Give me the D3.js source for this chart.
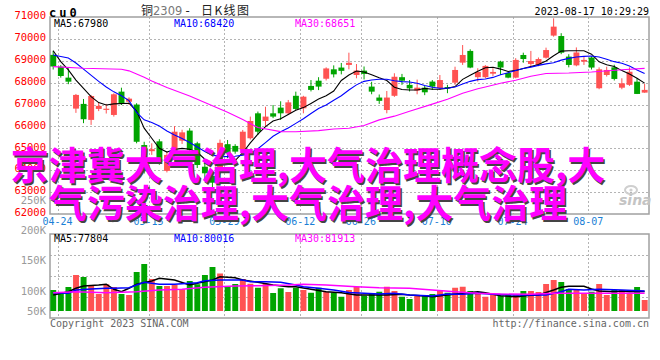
<!DOCTYPE html>
<html><head><meta charset="utf-8">
<script src="https://cdn.jsdelivr.net/npm/d3@7/dist/d3.min.js"></script>
<style>html,body{margin:0;padding:0;background:#fff;}svg{display:block;}</style>
</head><body><svg id="c" width="660" height="360"></svg>
<script>
const dates = ["04-24","04-25","04-26","04-27","04-28","05-04","05-05","05-08","05-09","05-10","05-11","05-12","05-15","05-16","05-17","05-18","05-19","05-22","05-23","05-24","05-25","05-26","05-29","05-30","05-31","06-01","06-02","06-05","06-06","06-07","06-08","06-09","06-12","06-13","06-14","06-15","06-16","06-19","06-20","06-21","06-26","06-27","06-28","06-29","06-30","07-03","07-04","07-05","07-06","07-07","07-10","07-11","07-12","07-13","07-14","07-17","07-18","07-19","07-20","07-21","07-24","07-25","07-26","07-27","07-28","07-31","08-01","08-02","08-03","08-04","08-07","08-08","08-09","08-10","08-11","08-14","08-15","08-16","08-17"];
const open = [69270,68730,68230,66815,67030,66300,66800,66770,66525,67590,67130,67000,65150,64870,65320,63970,64960,65350,65810,65230,64160,63740,63900,65190,65110,64930,65460,66600,66250,66600,66860,66600,67400,66830,67850,68090,68180,68610,68690,68810,68350,68550,67820,67320,66750,67400,68250,67900,67640,67770,68050,67750,67800,68000,68915,69450,68250,68250,68410,68960,68440,68230,69265,68855,68810,69140,70150,70130,69190,68790,68960,69150,67745,68350,68700,67770,67900,68045,67545];
const high = [69460,68800,68660,67485,67255,67440,67100,67030,67515,67770,67330,67060,65300,65230,65420,64850,66020,65850,65920,65300,64350,63900,65400,65380,65190,65840,66450,66680,66900,66980,67150,67210,67590,67400,68120,68250,68700,68790,68900,69370,68850,68740,68040,67460,67620,68430,68400,68120,68140,67850,68120,68350,67900,68730,69720,69525,68660,68800,68660,69000,68500,69120,69370,69450,69150,69600,70940,70260,69300,69610,69190,69200,68700,68730,68820,68200,68700,68200,67950];
const low = [68600,68230,67930,66620,66150,66070,66700,66590,66450,66980,66990,65230,63850,64700,64250,63900,64900,65200,64700,64100,63600,63100,63800,64550,64750,64850,65400,65610,66000,66380,66300,66550,66750,66600,67600,67660,68100,68240,68380,68610,68200,68150,67470,67030,66600,67350,67900,67600,67470,67430,67670,67670,67520,67900,68810,68660,68050,68200,68300,68350,68200,68200,68910,68730,68750,69100,70100,69300,68700,68750,68810,68600,67700,68280,68100,67700,67850,67480,67540];
const close = [68740,68305,68045,67440,66330,67390,66940,66810,67470,67060,67270,65300,63950,64960,64380,64700,65760,65730,64930,64240,63860,63430,65250,64780,64850,65760,66250,65760,66450,66450,66600,67100,66800,67360,67670,67820,68650,68380,68540,68910,68550,68400,67590,67170,67320,68270,68090,67740,67770,67560,67820,68120,67740,68580,69265,68690,68490,68765,68490,68690,68230,69040,69080,68990,69080,69490,70560,69370,68810,69380,69040,68690,68610,68580,68170,67970,68500,67485,67670];
const volume = [84000,73000,96000,144000,136000,100000,68000,107000,96000,68000,64000,156000,188000,128000,100000,100000,104000,87000,120000,107000,144000,176000,150000,100000,108000,128000,109000,93000,109000,72000,91000,76000,93000,84000,73000,93000,77000,73000,57000,84000,97000,61000,72000,77000,97000,80000,57000,48000,64000,64000,68000,80000,73000,93000,97000,80000,71000,57000,64000,60000,64000,64000,80000,80000,76000,108000,124000,116000,88000,84000,71000,77000,108000,64000,84000,84000,71000,96000,44000];

// moving-average lines: [day index, value]
const ma5Price = [[0,69460],[1,68960],[2,68580],[3,68120],[4,67740],[5,67360],[6,67090],[7,66980],[8,67030],[10,67060],[11,66700],[12,65920],[13,65460],[14,65000],[15,64830],[16,64950],[17,65000],[18,64960],[19,64820],[20,64500],[21,64330],[22,64240],[23,64320],[24,64440],[25,64800],[26,65250],[27,65650],[28,65990],[29,66250],[30,66350],[31,66550],[32,66740],[33,66860],[34,67050],[35,67250],[36,67400],[37,67620],[38,68100],[39,68350],[40,68530],[41,68490],[42,68360],[43,68220],[44,68100],[45,67790],[46,67690],[47,67667],[48,67667],[49,67740],[50,67700],[51,67700],[52,67744],[53,67820],[54,68150],[55,68340],[56,68520],[57,68680],[58,68703],[59,68620],[60,68510],[61,68560],[62,68650],[63,68740],[64,68830],[65,68990],[66,69230],[67,69440],[68,69461],[69,69461],[70,69460],[71,69300],[72,68950],[73,68820],[74,68740],[75,68550],[76,68400],[77,68200],[78,67980]];
const ma10Price = [[0,69265],[2,69130],[3,68900],[4,68620],[6,68060],[7,67800],[8,67580],[9,67400],[10,67180],[11,66640],[12,66300],[13,66180],[14,66020],[15,65790],[16,65610],[17,65450],[18,65270],[19,65060],[20,64860],[21,64690],[22,64630],[23,64621],[24,64640],[25,64690],[26,64790],[27,64980],[28,65260],[29,65550],[30,65760],[31,65930],[32,66140],[33,66350],[34,66590],[35,66820],[36,66982],[37,67200],[38,67400],[39,67667],[40,67900],[41,68060],[42,68120],[43,68155],[44,68155],[45,68090],[46,68046],[47,68030],[48,67970],[49,67870],[50,67790],[51,67744],[52,67744],[53,67800],[54,67940],[55,68060],[56,68140],[57,68170],[58,68240],[59,68360],[60,68450],[61,68560],[62,68650],[63,68710],[64,68790],[65,68860],[66,68910],[67,69030],[68,69110],[69,69170],[70,69200],[71,69219],[72,69170],[73,69070],[74,68960],[75,68886],[76,68760],[77,68580],[78,68420]];
const ma30Price = [[0,68731],[4,68658],[9,68612],[10,68540],[11,68400],[12,68250],[13,68080],[14,67930],[15,67780],[18,67390],[20,67090],[23,66650],[25,66320],[27,65950],[30,65763],[32,65760],[35,65808],[37,65886],[39,65918],[41,66040],[43,66300],[45,66470],[47,66690],[50,67020],[52,67242],[54,67520],[56,67720],[57,67800],[59,67973],[61,68110],[62,68200],[63,68290],[65,68420],[68,68440],[71,68490],[75,68590],[78,68651]];
const ma5Vol = [[0,64000],[2,77000],[3,91000],[4,100000],[6,104000],[7,107000],[8,87000],[9,77000],[10,91000],[11,107000],[13,120000],[14,131000],[16,124000],[18,104000],[19,111000],[21,124000],[22,137000],[24,133000],[25,124000],[27,115000],[29,104000],[31,97000],[32,97000],[34,87000],[36,77000],[38,73000],[40,64000],[42,64000],[44,64000],[46,67000],[47,64000],[49,60000],[50,57000],[52,64000],[54,71000],[56,77000],[57,73000],[59,61000],[61,57000],[63,63000],[64,64000],[66,84000],[67,95000],[68,99000],[70,99000],[71,88000],[72,80000],[74,77000],[75,80000],[76,77000],[78,77804]];
const ma10Vol = [[0,73000],[2,71000],[3,84000],[5,88000],[7,91000],[8,91000],[10,93000],[11,104000],[12,115000],[14,107000],[16,107000],[18,111000],[19,113000],[20,121000],[22,124000],[25,124000],[26,117000],[28,117000],[30,115000],[32,104000],[33,97000],[35,91000],[37,84000],[39,74000],[41,71000],[43,68000],[45,71000],[47,64000],[50,60000],[52,68000],[54,67000],[56,71000],[58,67000],[61,64000],[63,64000],[65,64000],[67,77000],[68,87000],[70,84000],[72,87000],[75,84000],[78,80016]];
const ma30Vol = [[0,73000],[3,77000],[7,73000],[11,77000],[14,84000],[17,87000],[20,95000],[24,100000],[27,101000],[31,104000],[33,107000],[36,104000],[40,97000],[43,93000],[47,91000],[50,84000],[53,77000],[56,71000],[59,68000],[63,67000],[66,71000],[70,71000],[74,71000],[78,71000]];

const priceTicks = [71000,70000,69000,68000,67000,66000,65000,64000,63000,62000];
const volTicks = [250000,200000,150000,100000,50000];
const volTickLabels = ["250K","200K","150K","100K","50K"];
const dateTicks = ["04-24","05-15","05-29","06-12","06-26","07-10","07-24","08-07"];
const priceMaLabels = ["MA5:67980","MA10:68420","MA30:68651"];
const volMaLabels = ["MA5:77804","MA10:80016","MA30:81913"];
const overlayLines = ["京津冀大气治理,大气治理概念股,大","气污染治理,大气治理,大气治理"];

const svg = d3.select('#c');
const L = 50, R = 649, T = 17, B = 214, VT = 234, VB = 318, VBASE = 311;
const UP = '#ff5252', DOWN = '#00a400';
const maColors = ['#000000','#0000ff','#ff00ff'];
const mono = "'DejaVu Sans Mono', monospace";

svg.append('rect').attr('width',660).attr('height',360).attr('fill','#fff');

const x = d3.scaleBand().domain(dates).range([L, R]).padding(0);
const step = x.step();
const xc = i => x(dates[i]) + step * 0.42;
const y = d3.scaleLinear().domain([62000, 71000]).range([B, T]);
const yV = d3.scaleLinear().domain([0, 200000]).range([VBASE, 261]);
const yVL = d3.scaleLinear().domain([100000, 250000]).range([291, 200]);

const grid = svg.append('g').attr('stroke','#b4b4b4').attr('stroke-dasharray','2,2').attr('stroke-width',1);
// price grid
priceTicks.slice(1, -1).forEach(v => {
  grid.append('line').attr('x1',L).attr('x2',R).attr('y1',Math.round(y(v))+0.5).attr('y2',Math.round(y(v))+0.5);
});
// volume grid
d3.range(1,4).forEach(k => {
  const yy = Math.round(VT + (VB - VT) * k / 4) + 0.5;
  grid.append('line').attr('x1',L).attr('x2',R).attr('y1',yy).attr('y2',yy);
});
dateTicks.forEach(d => {
  const xx = Math.round(x(d) + step) + 0.5;
  grid.append('line').attr('x1',xx).attr('x2',xx).attr('y1',T).attr('y2',B);
  grid.append('line').attr('x1',xx).attr('x2',xx).attr('y1',VT).attr('y2',VB);
});

// frames
svg.append('rect').attr('x',L).attr('y',T).attr('width',R-L).attr('height',B-T).attr('fill','none').attr('stroke','#a0a0a0').attr('stroke-width',1.5);
svg.append('rect').attr('x',L).attr('y',VT).attr('width',R-L).attr('height',VB-VT).attr('fill','none').attr('stroke','#a0a0a0').attr('stroke-width',1.5);

// candles
const cg = svg.append('g');
dates.forEach((d, i) => {
  const col = close[i] >= open[i] ? UP : DOWN;
  cg.append('line').attr('x1',xc(i)).attr('x2',xc(i)).attr('y1',y(high[i])).attr('y2',y(low[i])).attr('stroke',col).attr('stroke-width',1);
  const top = y(Math.max(open[i], close[i])), bot = y(Math.min(open[i], close[i]));
  cg.append('rect').attr('x', x(d) + step*0.04).attr('width', step*0.78)
    .attr('y', top).attr('height', Math.max(1.2, bot - top)).attr('fill', col);
});

// volume bars
const vg = svg.append('g');
dates.forEach((d, i) => {
  const col = close[i] >= open[i] ? UP : DOWN;
  vg.append('rect').attr('x', x(d) + step*0.04).attr('width', step*0.78)
    .attr('y', yV(volume[i])).attr('height', VBASE - yV(volume[i])).attr('fill', col);
});

// MA lines
const lineP = d3.line().x(d => xc(d[0])).y(d => y(d[1]));
const lineV = d3.line().x(d => xc(d[0])).y(d => yV(d[1]));
[ma5Price, ma10Price, ma30Price].forEach((s, k) => {
  svg.append('path').attr('d', lineP(s)).attr('fill','none').attr('stroke', maColors[k]).attr('stroke-width',1.1);
});
[ma5Vol, ma10Vol, ma30Vol].forEach((s, k) => {
  svg.append('path').attr('d', lineV(s)).attr('fill','none').attr('stroke', maColors[k]).attr('stroke-width',1.4);
});

// axis labels
priceTicks.forEach(v => {
  svg.append('text').attr('x',46).attr('y', y(v) + 2.2).attr('text-anchor','end')
    .attr('font-family',mono).attr('font-size',10.5).attr('fill','#ff0000').text(d3.format('d')(v));
});
volTicks.forEach((v, k) => {
  svg.append('text').attr('x',46).attr('y', Math.min(yVL(v), VBASE) + 3.6).attr('text-anchor','end')
    .attr('font-family',mono).attr('font-size',10.5).attr('fill','#9a9a9a').text(volTickLabels[k]);
});
dateTicks.forEach(d => {
  svg.append('text').attr('x', x(d) + step).attr('y', 225).attr('text-anchor','middle')
    .attr('font-family',mono).attr('font-size',10).attr('fill','#1a7fd6').text(d);
});

// MA labels
const maX = [54, 174, 295];
priceMaLabels.forEach((t, k) => {
  svg.append('text').attr('x',maX[k]).attr('y',26.5).attr('font-family',mono).attr('font-size',10).attr('fill',maColors[k]).text(t);
});
volMaLabels.forEach((t, k) => {
  svg.append('text').attr('x',maX[k]).attr('y',242).attr('font-family',mono).attr('font-size',10).attr('fill',maColors[k]).text(t);
});

// header
svg.append('text').attr('x',49).attr('y',16.5).attr('font-family',mono).attr('font-weight','bold')
  .attr('font-size',12).attr('letter-spacing',3).attr('fill','#000').text('cu0');
const cjk = "'Noto Sans CJK SC', sans-serif";
svg.append('text').attr('x',141).attr('y',14.5).attr('font-family',cjk).attr('font-size',12).attr('fill','#222').text('铜');
svg.append('text').attr('x',153).attr('y',14.5).attr('font-family',"'DejaVu Sans', sans-serif").attr('font-size',11.5).attr('fill','#777').text('2309');
svg.append('text').attr('x',184).attr('y',14.5).attr('font-family',mono).attr('font-size',12).attr('fill','#222').text('-');
svg.append('text').attr('x',201).attr('y',14.5).attr('font-family',cjk).attr('font-size',12).attr('fill','#222')
  .attr('textLength',48).text('日K线图');
svg.append('text').attr('x',649).attr('y',15).attr('text-anchor','end').attr('font-family',mono).attr('font-size',10).attr('fill','#000').text('2023-08-17 10:29:29');

// footer
svg.append('text').attr('x',50).attr('y',327).attr('font-family',mono).attr('font-size',10).attr('fill','#666').text('Copyright 2023 SINA.COM');
svg.append('text').attr('x',649).attr('y',327).attr('text-anchor','end').attr('font-family',mono).attr('font-size',10).attr('fill','#666').text('http://finance.sina.com.cn');

// sina watermark
const wm = svg.append('g');
wm.append('ellipse').attr('cx',631).attr('cy',190).attr('rx',6).attr('ry',4).attr('fill','none').attr('stroke','#cfcfcf').attr('stroke-width',2);
wm.append('circle').attr('cx',631).attr('cy',190).attr('r',1.6).attr('fill','#cfcfcf');
wm.append('text').attr('x',619).attr('y',205).attr('font-family',"'DejaVu Sans', sans-serif").attr('font-style','italic').attr('font-weight','bold')
  .attr('font-size',14).attr('fill','#c4c4c4').text('sina');

// overlay text
const ov = svg.append('g').attr('font-family',cjk).attr('font-size',38).attr('font-weight','bold').attr('text-anchor','middle');
const baselines = [179, 217];
overlayLines.forEach((t, k) => {
  ov.append('text').attr('x',309.5).attr('y',baselines[k]+1.5).attr('fill','#444').text(t);
  ov.append('text').attr('x',308).attr('y',baselines[k]).attr('fill','#ff00ff').text(t);
});
</script></body></html>
